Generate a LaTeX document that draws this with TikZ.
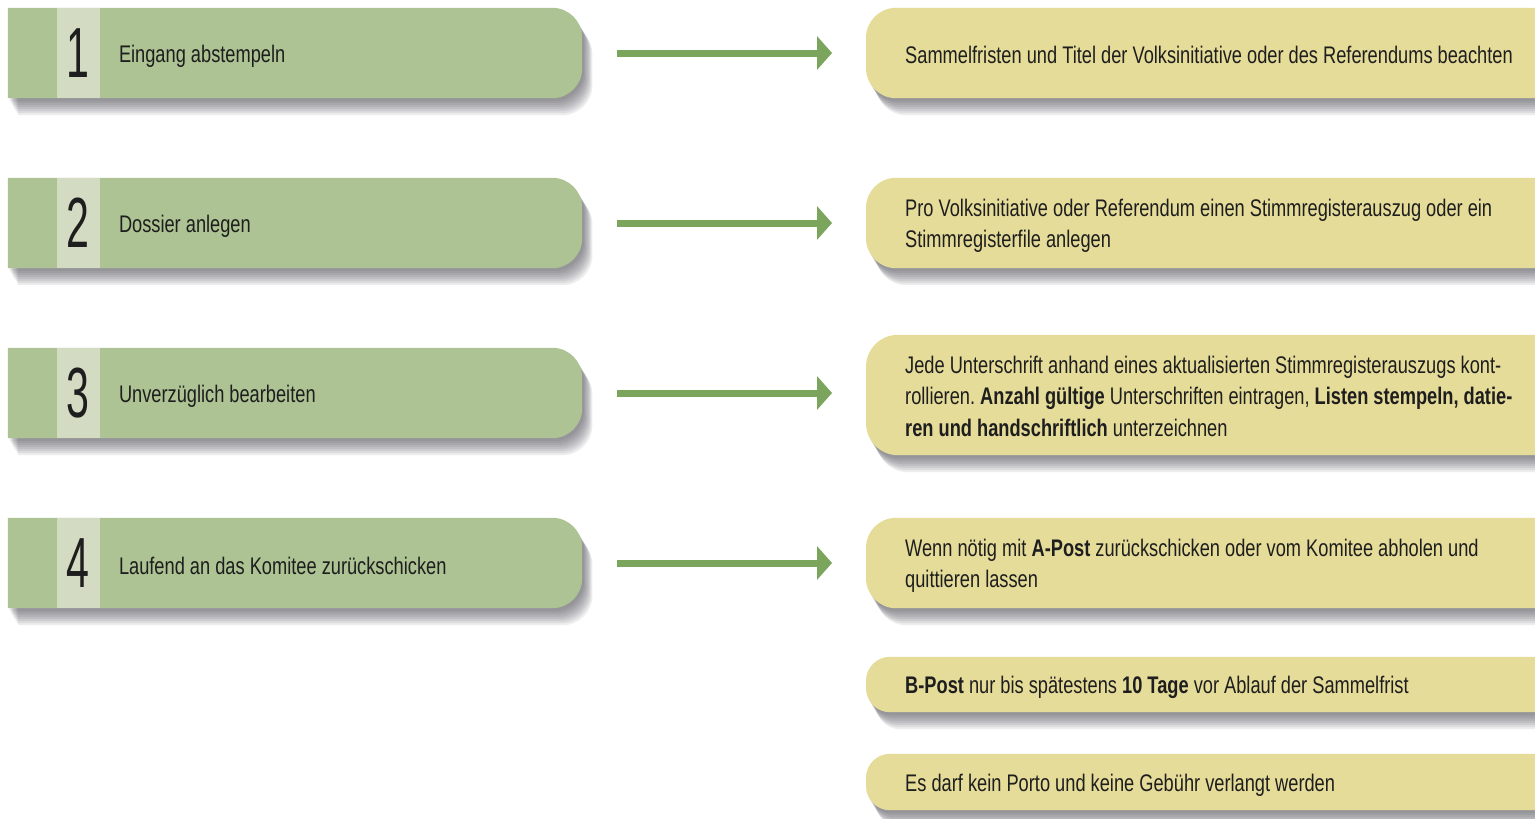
\documentclass[tikz,border=0pt]{standalone}
\usepackage{fontspec}
\setmainfont{Liberation Sans}[FakeStretch=0.76]
\newfontfamily\numfont{Liberation Sans}[FakeStretch=0.58]
\usetikzlibrary{arrows.meta}
\pgfdeclarelayer{bg0}
\pgfdeclarelayer{background}
\pgfsetlayers{bg0,background,main}
\frenchspacing
\definecolor{gfill}{HTML}{ADC393}
\definecolor{gstrip}{HTML}{D3DCC2}
\definecolor{yfill}{HTML}{E6DC99}
\definecolor{arrcol}{HTML}{7BA55D}
\definecolor{txt}{HTML}{1E1E1E}
\definecolor{shcol}{HTML}{3C3C48}
\tikzset{
  geo/.style={draw=none, inner sep=0pt, minimum width=574pt, minimum height=90pt},
  ygeo/.style={draw=none, inner sep=0pt, minimum width=700pt},
  numbox/.style={fill=gstrip, inner sep=0pt, minimum width=43pt, minimum height=90pt,
     font=\numfont\fontsize{71}{71}\selectfont, text=txt},
  gtext/.style={anchor=west, inner sep=0pt, text=txt, font=\fontsize{24}{31}\selectfont},
  ytext/.style={anchor=west, inner sep=0pt, text=txt, align=left, font=\fontsize{24}{31.5}\selectfont},
  shlayer/.style={preaction={fill=shcol, fill opacity=0.09, transform canvas={xshift=#1*0.6pt, yshift=-#1*1pt}}},
  shad/.style={shlayer=3, shlayer=5, shlayer=7, shlayer=9, shlayer=11, shlayer=13, shlayer=15, shlayer=17},
  arr/.style={draw=arrcol, line width=7pt, -{Triangle[length=15pt,width=33pt]}, shorten <=35pt, shorten >=34pt}
}
\newcommand{\greenshape}[1]{%
  \fill[gfill, shad] (#1.north west) -- ([xshift=-30pt]#1.north east)
    arc[start angle=90, end angle=0, radius=30pt] -- ([yshift=30pt]#1.south east)
    arc[start angle=0, end angle=-90, radius=30pt] -- (#1.south west) -- cycle;}
\newcommand{\yellowshape}[2]{%
  \fill[yfill, shad] (#1.north east) -- ([xshift=#2]#1.north west)
    arc[start angle=90, end angle=180, radius=#2] -- ([yshift=#2]#1.south west)
    arc[start angle=180, end angle=270, radius=#2] -- (#1.south east) -- cycle;}
\begin{document}
\begin{tikzpicture}[x=1pt,y=1pt]
\useasboundingbox (0,0) rectangle (1535,-819);
\clip (0,0) rectangle (1535,-819);
\begin{pgfonlayer}{bg0}
\fill[white] (0,0) rectangle (1535,-819);
\end{pgfonlayer}
% green boxes
\node[geo] (g1) at (295,-53) {};
\node[geo] (g2) at (295,-223) {};
\node[geo] (g3) at (295,-393) {};
\node[geo] (g4) at (295,-563) {};
% yellow boxes
\node[ygeo, minimum height=90pt, anchor=west] (y1) at (866,-53) {};
\node[ygeo, minimum height=90pt, anchor=west] (y2) at (866,-223) {};
\node[ygeo, minimum height=120pt, anchor=west] (y3) at (866,-395) {};
\node[ygeo, minimum height=90pt, anchor=west] (y4) at (866,-563) {};
\node[ygeo, minimum height=55pt, anchor=west] (y5) at (866,-684.5) {};
\node[ygeo, minimum height=56pt, anchor=west] (y6) at (866,-782) {};
\begin{pgfonlayer}{background}
\greenshape{g1}\greenshape{g2}\greenshape{g3}\greenshape{g4}
\yellowshape{y1}{30pt}\yellowshape{y2}{30pt}\yellowshape{y3}{32pt}
\yellowshape{y4}{30pt}\yellowshape{y5}{24pt}\yellowshape{y6}{24pt}
\end{pgfonlayer}
% numbers
\node[numbox] (n1) at ([xshift=70.5pt]g1.west) {1};
\node[numbox] (n2) at ([xshift=70.5pt]g2.west) {2};
\node[numbox] (n3) at ([xshift=70.5pt]g3.west) {3};
\node[numbox] (n4) at ([xshift=70.5pt]g4.west) {4};
% green texts
\node[gtext] (s1) at ([xshift=111pt,yshift=-3pt]g1.west) {Eingang abstempeln};
\node[gtext] (s2) at ([xshift=111pt,yshift=-3pt]g2.west) {Dossier anlegen};
\node[gtext] (s3) at ([xshift=111pt,yshift=-3pt]g3.west) {Unverzüglich bearbeiten};
\node[gtext] (s4) at ([xshift=111pt,yshift=-3pt]g4.west) {Laufend an das Komitee zurückschicken};
% yellow texts
\node[ytext] (r1) at ([xshift=39pt,yshift=-2pt]y1.west) {Sammelfristen und Titel der Volksinitiative oder des Referendums beachten};
\node[ytext] (r2) at ([xshift=39pt,yshift=-3pt]y2.west) {Pro Volksinitiative oder Referendum einen Stimmregisterauszug oder ein\\Stimmregisterfile anlegen};
\node[ytext] (r3) at ([xshift=39pt,yshift=-1pt]y3.west) {Jede Unterschrift anhand eines aktualisierten Stimmregisterauszugs kont-\\rollieren. \textbf{Anzahl gültige} Unterschriften eintragen, \textbf{Listen stempeln, datie-}\\\textbf{ren und handschriftlich} unterzeichnen};
\node[ytext] (r4) at ([xshift=39pt,yshift=-3pt]y4.west) {Wenn nötig mit \textbf{A-Post} zurückschicken oder vom Komitee abholen und\\quittieren lassen};
\node[ytext] (r5) at ([xshift=39pt,yshift=-3pt]y5.west) {\textbf{B-Post} nur bis spätestens \textbf{10 Tage} vor Ablauf der Sammelfrist};
\node[ytext] (r6) at ([xshift=39pt,yshift=-3pt]y6.west) {Es darf kein Porto und keine Gebühr verlangt werden};
% arrows
\draw[arr] (g1.east) -- (g1.east -| y1.west);
\draw[arr] (g2.east) -- (g2.east -| y2.west);
\draw[arr] (g3.east) -- (g3.east -| y3.west);
\draw[arr] (g4.east) -- (g4.east -| y4.west);
\end{tikzpicture}
\end{document}
